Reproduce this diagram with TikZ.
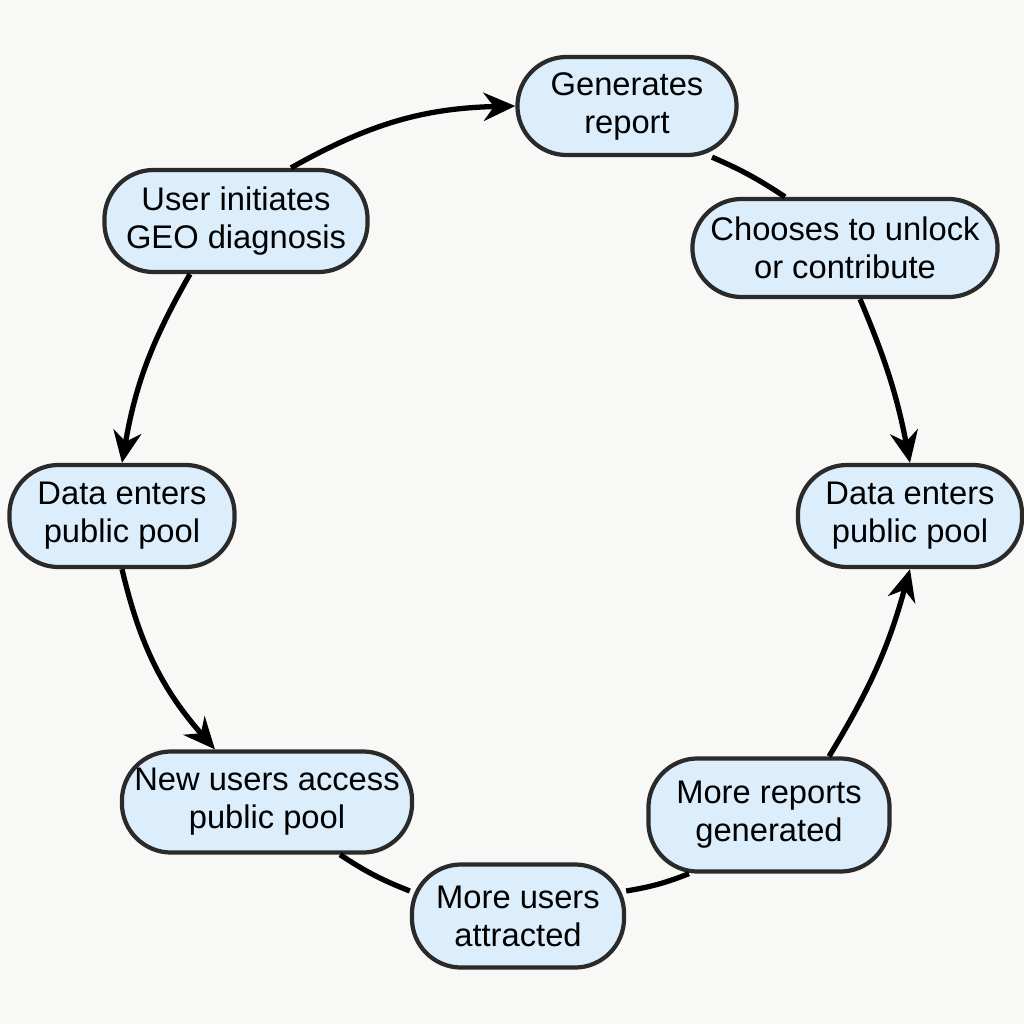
\documentclass[tikz,border=0pt]{standalone}
\usepackage{fontspec}
\setmainfont{Liberation Sans}
\usetikzlibrary{arrows.meta}
\definecolor{boxfill}{HTML}{DCEEFB}
\definecolor{boxline}{HTML}{2A2A2A}
\definecolor{bg}{HTML}{F8F8F6}
\begin{document}
\begin{tikzpicture}[x=0.01cm,y=-0.01cm,
  box/.style={draw=boxline,line width=1.2pt,fill=boxfill,rounded corners=14pt,
    align=center,font=\fontsize{9.3}{10.8}\selectfont,inner sep=0pt},
  conn/.style={line width=1.5pt,black},
  arr/.style={conn,-{Stealth[length=9pt,width=8pt]}}]
\fill[bg] (0,0) rectangle (1024,1024);
\useasboundingbox (0,0) rectangle (1024,1024);
\node[box,minimum width=2.19cm,minimum height=0.98cm] (gen) at (627,106) {Generates\\report};
\node[box,minimum width=2.63cm,minimum height=1.02cm] (user) at (236,221) {User initiates\\GEO diagnosis};
\node[box,minimum width=3.05cm,minimum height=0.98cm] (choose) at (845,248) {Chooses to unlock\\or contribute};
\node[box,minimum width=2.25cm,minimum height=1.02cm] (dl) at (122,516) {Data enters\\public pool};
\node[box,minimum width=2.24cm,minimum height=1.02cm] (dr) at (910,516) {Data enters\\public pool};
\node[box,minimum width=2.9cm,minimum height=1.01cm] (newu) at (267,802) {New users access\\public pool};
\node[box,minimum width=2.41cm,minimum height=1.13cm] (morer) at (769,815) {More reports\\generated};
\node[box,minimum width=2.12cm,minimum height=1.03cm] (moreu) at (518,916) {More users\\attracted};
\begin{scope}[on background layer/.style={}]
\end{scope}
\draw[arr] ([xshift=5.5mm]user.north) to[bend left=14] (gen.west);
\draw[conn] ([xshift=8.5mm]gen.south) to[bend left=5] ([xshift=-6mm]choose.north);
\draw[arr] ([xshift=1.5mm]choose.south) to[bend left=6] (dr.north);
\draw[arr] ([xshift=-4.6mm]user.south) to[bend right=10] (dl.north);
\draw[arr] (dl.south) to[bend right=14] ([xshift=-5.2mm]newu.north);
\draw[conn] ([xshift=7.3mm]newu.south) to[bend right=6] ([yshift=2.5mm]moreu.west);
\draw[conn] ([yshift=2.5mm]moreu.east) to[bend right=6] ([xshift=-8mm]morer.south);
\draw[arr] ([xshift=6mm]morer.north) to[bend right=8] (dr.south);
\end{tikzpicture}
\end{document}
